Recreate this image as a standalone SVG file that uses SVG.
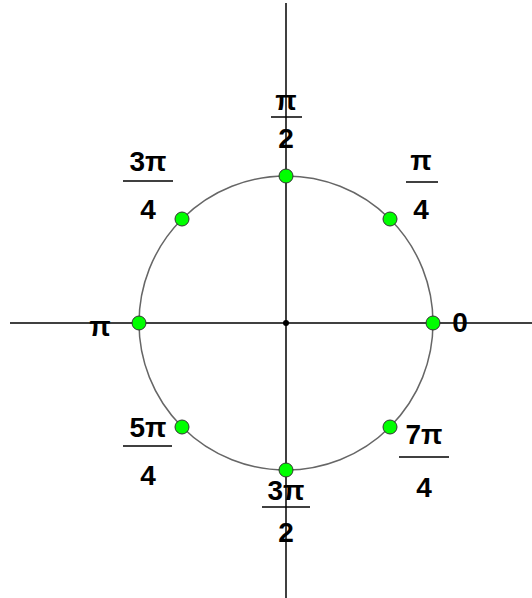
<svg xmlns="http://www.w3.org/2000/svg" width="532" height="598" viewBox="0 0 532 598">
<style>
.lbl{font-family:"Liberation Sans",Arial,sans-serif;font-weight:bold;font-size:28px;fill:#000;text-anchor:middle}
.frac{stroke:#000;stroke-width:1.5}
.pt{fill:#00ff00;stroke:#333;stroke-width:1}
.axis{stroke:#000;stroke-width:1.5}
</style>
<rect width="532" height="598" fill="#fff"/>
<g id="axes">
<line class="axis" x1="10" y1="323" x2="532" y2="323"/>
<line class="axis" x1="286" y1="3" x2="286" y2="598"/>
</g>
<g id="circle">
<circle cx="286" cy="323" r="147" fill="none" stroke="#666" stroke-width="1.5"/>
<circle cx="286" cy="323" r="3" fill="#000"/>
</g>
<g id="points">
<circle class="pt" cx="433" cy="323" r="7"/>
<circle class="pt" cx="390" cy="219" r="7"/>
<circle class="pt" cx="286" cy="176" r="7"/>
<circle class="pt" cx="182" cy="219" r="7"/>
<circle class="pt" cx="139" cy="323" r="7"/>
<circle class="pt" cx="182" cy="427" r="7"/>
<circle class="pt" cx="286" cy="470" r="7"/>
<circle class="pt" cx="390" cy="427" r="7"/>
</g>
<g id="label-pi2">
<text class="lbl" x="286" y="110">π</text>
<line class="frac" x1="271" y1="117" x2="302" y2="117"/>
<text class="lbl" x="286" y="148">2</text>
</g>
<g id="label-3pi4">
<text class="lbl" x="148" y="171">3π</text>
<line class="frac" x1="123" y1="181" x2="173" y2="181"/>
<text class="lbl" x="148" y="219">4</text>
</g>
<g id="label-pi4">
<text class="lbl" x="421" y="170">π</text>
<line class="frac" x1="406" y1="182" x2="438" y2="182"/>
<text class="lbl" x="421" y="219">4</text>
</g>
<g id="label-pi">
<text class="lbl" x="100" y="336">π</text>
</g>
<g id="label-0">
<text class="lbl" x="460" y="332">0</text>
</g>
<g id="label-5pi4">
<text class="lbl" x="148" y="437">5π</text>
<line class="frac" x1="123" y1="446" x2="172" y2="446"/>
<text class="lbl" x="148" y="485">4</text>
</g>
<g id="label-7pi4">
<text class="lbl" x="424" y="444">7π</text>
<line class="frac" x1="399" y1="457" x2="449" y2="457"/>
<text class="lbl" x="424" y="497">4</text>
</g>
<g id="label-3pi2">
<text class="lbl" x="286" y="500">3π</text>
<line class="frac" x1="262" y1="507" x2="310" y2="507"/>
<text class="lbl" x="286" y="542">2</text>
</g>
</svg>
